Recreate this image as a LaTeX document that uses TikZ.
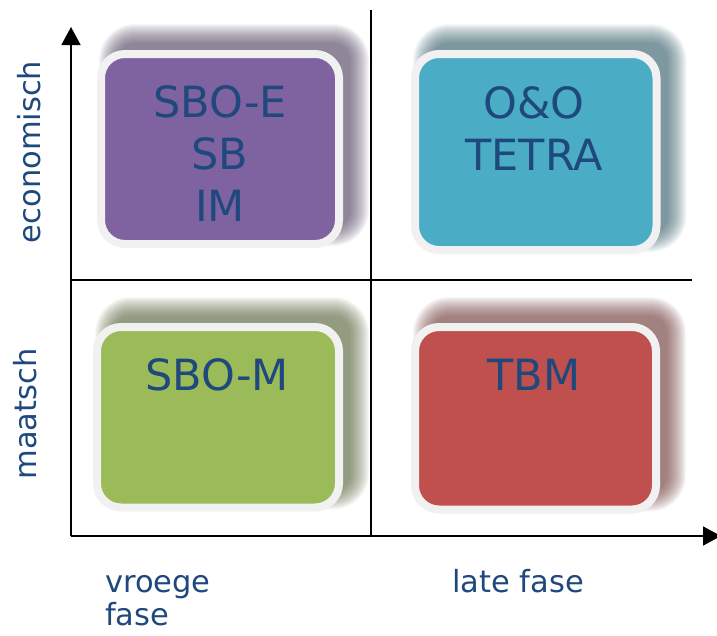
\documentclass[tikz,border=0pt]{standalone}
\usepackage{fontspec}
\setmainfont{DejaVu Sans}
\usetikzlibrary{arrows.meta,calc,backgrounds}
\definecolor{txt}{HTML}{1F497D}
\definecolor{cpurple}{HTML}{7F62A0}
\definecolor{cteal}{HTML}{4AACC5}
\definecolor{cgreen}{HTML}{9BBB59}
\definecolor{cred}{HTML}{C0504D}
\definecolor{rim}{HTML}{F1F1F1}
\newcommand\softshadow[2]{%
  \foreach \i in {0,...,19}{%
    \pgfmathsetmacro\s{8-\i}%
    \pgfmathsetmacro\rr{max(6,28+\s)}%
    \fill[#2, opacity=0.042, rounded corners=\rr pt]
      ($(#1.north west)+(10-\s,-18-\s)$) rectangle ($(#1.south east)+(18+\s,-10+\s)$);
  }%
}
\begin{document}
\begin{tikzpicture}[x=1pt,y=-1pt,
  quadbox/.style={rectangle, rounded corners=24pt, draw=rim, line width=8pt,
    minimum width=#1, inner sep=0pt},
  boxtext/.style={text=txt, font=\fontsize{43}{52}\selectfont, align=center, anchor=base},
  axtext/.style={text=txt, font=\fontsize{30.5}{34}\selectfont, anchor=base, inner sep=0pt},
  axis/.style={line width=1.6pt, black},
  divider/.style={line width=1.4pt, black},
  tip/.style={-{Triangle[width=19pt,length=18pt]}}
]
\useasboundingbox (0,0) rectangle (717,635);
% boxes
\node[quadbox=238pt, minimum height=190pt, fill=cpurple] (pbox) at (220,149) {};
\node[quadbox=241.5pt, minimum height=196pt, fill=cteal] (tbox) at (535.75,152) {};
\node[quadbox=242pt, minimum height=180.5pt, fill=cgreen] (gbox) at (218,417.25) {};
\node[quadbox=241pt, minimum height=182.5pt, fill=cred] (rbox) at (535.5,418.25) {};
\begin{scope}[on background layer]
  \softshadow{pbox}{cpurple!50!black}
  \softshadow{tbox}{cteal!45!black}
  \softshadow{gbox}{cgreen!45!black}
  \softshadow{rbox}{cred!50!black}
\end{scope}
% box texts
\node[boxtext] (ptext) at (220,221) {SBO-E\\SB\\IM};
\node[boxtext] (ttext) at (534,170) {O\&O\\TETRA};
\node[boxtext] (gtext) at (217,390) {SBO-M};
\node[boxtext] (rtext) at (534,390) {TBM};
% axes
\coordinate (origin) at (71,536);
\coordinate (ytip) at (71,27);
\coordinate (xtip) at (721,536);
\coordinate (vtop) at (371,10);
\coordinate (vbot) at (371,536);
\coordinate (hleft) at (71,280);
\coordinate (hright) at (692,280);
\draw[divider] (vtop) -- (vbot);
\draw[divider] (hleft) -- (hright);
\draw[axis,tip] (origin) -- (ytip);
\draw[axis,tip] (origin) -- (xtip);
% axis labels
\node[axtext, rotate=90] (econ) at (40,152) {economisch};
\node[axtext, rotate=90] (maat) at (36,414) {maatsch};
\node[axtext, anchor=base west] (vroege) at (105,592) {vroege};
\node[axtext, anchor=base west] (fase1) at (105,625) {fase};
\node[axtext, anchor=base west] (late) at (452,592) {late fase};
\end{tikzpicture}
\end{document}
